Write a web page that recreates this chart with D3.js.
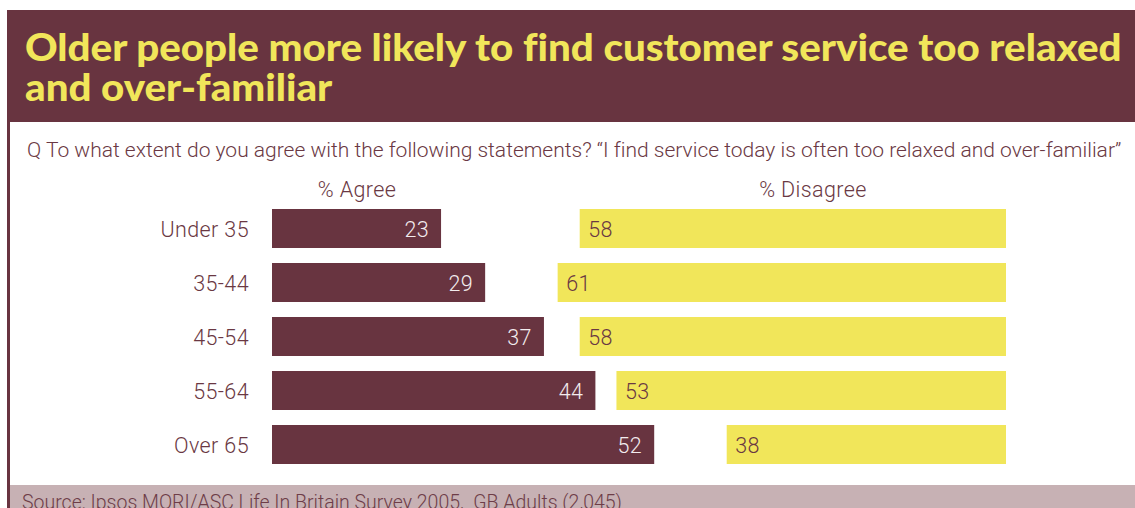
<!DOCTYPE html>
<html>
<head>
<meta charset="utf-8">
<script src="https://cdn.jsdelivr.net/npm/d3@7"></script>
<style>
  html, body { margin: 0; padding: 0; background: #fff; }
  svg { display: block; }
  text { font-variant-ligatures: none; }
</style>
</head>
<body>
<div id="chart"></div>
<script>
// Survey results by age group
const categories = ["Under 35", "35-44", "45-54", "55-64", "Over 65"];
const agree = [23, 29, 37, 44, 52];
const disagree = [58, 61, 58, 53, 38];
const seriesLabels = ["% Agree", "% Disagree"];

const titleLines = [
  "Older people more likely to find customer service too relaxed",
  "and over-familiar"
];
const question = "Q To what extent do you agree with the following statements? \u201cI find service today is often too relaxed and over-familiar\u201d";
const source = "Source: Ipsos MORI/ASC Life In Britain Survey 2005,  GB Adults (2,045)";

const W = 1135, H = 508;
const maroon = "#683440";
const yellow = "#f1e65a";
const pink = "#c7b1b4";
const textMaroon = "#6a3843";
const bodyFont = "Roboto, 'Liberation Sans', sans-serif";
const titleFont = "Lato, 'DejaVu Sans', sans-serif";
const labelSize = 21.5;
const labelSpacing = 0.4;

const svg = d3.select("#chart").append("svg")
  .attr("width", W).attr("height", H);

// Frame: header band, left rule, source strip
svg.append("rect").attr("x", 7).attr("y", 10).attr("width", W - 7).attr("height", 112).attr("fill", maroon);
svg.append("rect").attr("x", 7).attr("y", 10).attr("width", 3).attr("height", H - 10).attr("fill", maroon);
svg.append("rect").attr("x", 10).attr("y", 485).attr("width", W - 10).attr("height", H - 485).attr("fill", pink);

// Shrink/grow a text's font size so that it spans the target width
function fitWidth(sel, target) {
  const fs = parseFloat(sel.attr("font-size"));
  const w = sel.node().getComputedTextLength();
  const nfs = fs * target / w;
  sel.attr("font-size", nfs);
  return nfs;
}

// Title: fit the first line's width, then stretch vertically to the intended cap height
const titleBase = 38;
const probe = svg.append("text").text(titleLines[0])
  .attr("font-family", titleFont).attr("font-weight", 900)
  .attr("font-size", titleBase);
const fitted = fitWidth(probe, 1097);
probe.remove();
const sy = titleBase / fitted;
const title = svg.append("text")
  .attr("font-family", titleFont).attr("font-weight", 900)
  .attr("font-size", fitted).attr("fill", yellow)
  .attr("transform", `translate(25,61) scale(1,${sy})`);
title.selectAll("tspan").data(titleLines).join("tspan")
  .attr("x", 0)
  .attr("dy", (d, i) => i === 0 ? 0 : 40 / sy)
  .text(d => d);

// Question line
const q = svg.append("text").text(question)
  .attr("x", 27).attr("y", 156.5)
  .attr("font-family", bodyFont).attr("font-weight", 300)
  .attr("font-size", 19).attr("fill", textMaroon);
fitWidth(q, 1095);

// Source line (sits at the bottom edge; keeps its double space)
const s = svg.append("text").text(source)
  .attr("x", 22).attr("y", 508.5)
  .style("white-space", "pre")
  .attr("font-family", bodyFont).attr("font-weight", 300)
  .attr("font-size", 19).attr("fill", "#6e3d48");
fitWidth(s, 600);

// Scales
const agreeX0 = 272;      // left edge of agree bars
const disagreeX1 = 1006;  // right edge of disagree bars
const x = d3.scaleLinear().domain([0, 100]).range([0, 735]);
const y = d3.scaleBand().domain(categories)
  .range([201.5, 471.5]).paddingInner(15 / 54).paddingOuter(7.5 / 54);

const rows = categories.map((c, i) => ({ cat: c, agree: agree[i], disagree: disagree[i] }));

function bodyText(sel) {
  return sel.attr("font-family", bodyFont).attr("font-weight", 300)
    .attr("font-size", labelSize).attr("letter-spacing", labelSpacing);
}

// Series headers
bodyText(svg.append("text").text(seriesLabels[0]))
  .attr("x", 357).attr("y", 196.5).attr("text-anchor", "middle")
  .attr("fill", textMaroon);
bodyText(svg.append("text").text(seriesLabels[1]))
  .attr("x", 813).attr("y", 196.5).attr("text-anchor", "middle")
  .attr("fill", textMaroon);

const g = svg.append("g");
const row = g.selectAll("g.row").data(rows).join("g").attr("class", "row");
const baseY = d => y(d.cat) + y.bandwidth() / 2 + 8.5;

// Category labels
bodyText(row.append("text"))
  .attr("x", 249)
  .attr("y", baseY)
  .attr("text-anchor", "end")
  .attr("fill", textMaroon)
  .text(d => d.cat);

// Agree bars + values
row.append("rect")
  .attr("x", agreeX0)
  .attr("y", d => y(d.cat))
  .attr("width", d => x(d.agree))
  .attr("height", y.bandwidth())
  .attr("fill", maroon);
bodyText(row.append("text"))
  .attr("x", d => agreeX0 + x(d.agree) - 12)
  .attr("y", baseY)
  .attr("text-anchor", "end")
  .attr("fill", "#f3ecee")
  .text(d => d.agree);

// Disagree bars + values
row.append("rect")
  .attr("x", d => disagreeX1 - x(d.disagree))
  .attr("y", d => y(d.cat))
  .attr("width", d => x(d.disagree))
  .attr("height", y.bandwidth())
  .attr("fill", yellow);
bodyText(row.append("text"))
  .attr("x", d => disagreeX1 - x(d.disagree) + 8.5)
  .attr("y", baseY)
  .attr("text-anchor", "start")
  .attr("fill", textMaroon)
  .text(d => d.disagree);
</script>
</body>
</html>
